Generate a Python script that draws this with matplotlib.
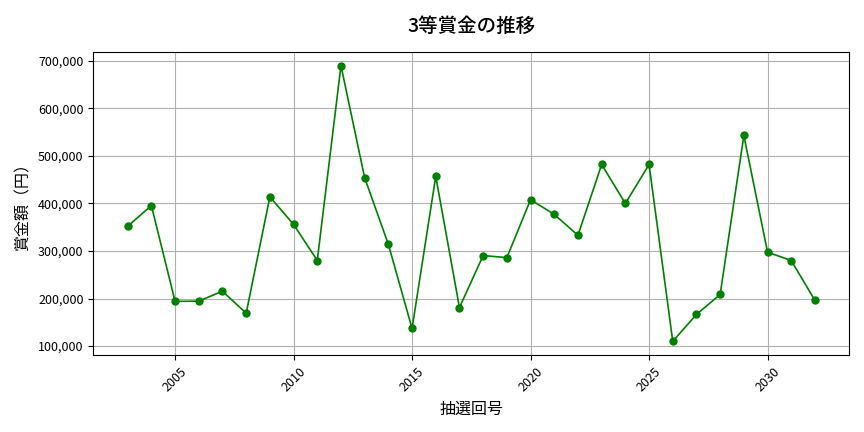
import matplotlib
matplotlib.use("Agg")
from matplotlib import pyplot as plt
from matplotlib.ticker import FuncFormatter

plt.rcParams['font.family'] = ['Noto Sans CJK JP', 'DejaVu Sans']

draw_no = list(range(2003, 2033))
prize = [352000, 395500, 194000, 194500, 215500, 169000, 414000, 356000, 280000, 690000,
         454000, 314000, 137000, 457000, 181000, 290500, 286000, 408000, 377000, 333000,
         482000, 400000, 482000, 110000, 166500, 208500, 543000, 297500, 280000, 196000]

fig, ax = plt.subplots(figsize=(8.64, 4.32), dpi=100)
fig.subplots_adjust(left=0.108, right=0.983, top=0.88, bottom=0.178)

ax.plot(draw_no, prize, color='green', marker='o', markersize=5, linewidth=1.2)
ax.set_title('3等賞金の推移', fontsize=14, pad=14, fontweight='medium')
ax.set_xlabel('抽選回号', fontsize=11.5, labelpad=5)
ax.set_ylabel('賞金額（円）', fontsize=11.5, labelpad=5)
ax.yaxis.set_major_formatter(FuncFormatter(lambda v, p: f'{int(v):,}'))
ax.tick_params(axis='both', labelsize=9)
plt.setp(ax.get_xticklabels(), rotation=45)
ax.grid(True, color='#b0b0b0', linewidth=0.8)

fig.savefig('out.png')
